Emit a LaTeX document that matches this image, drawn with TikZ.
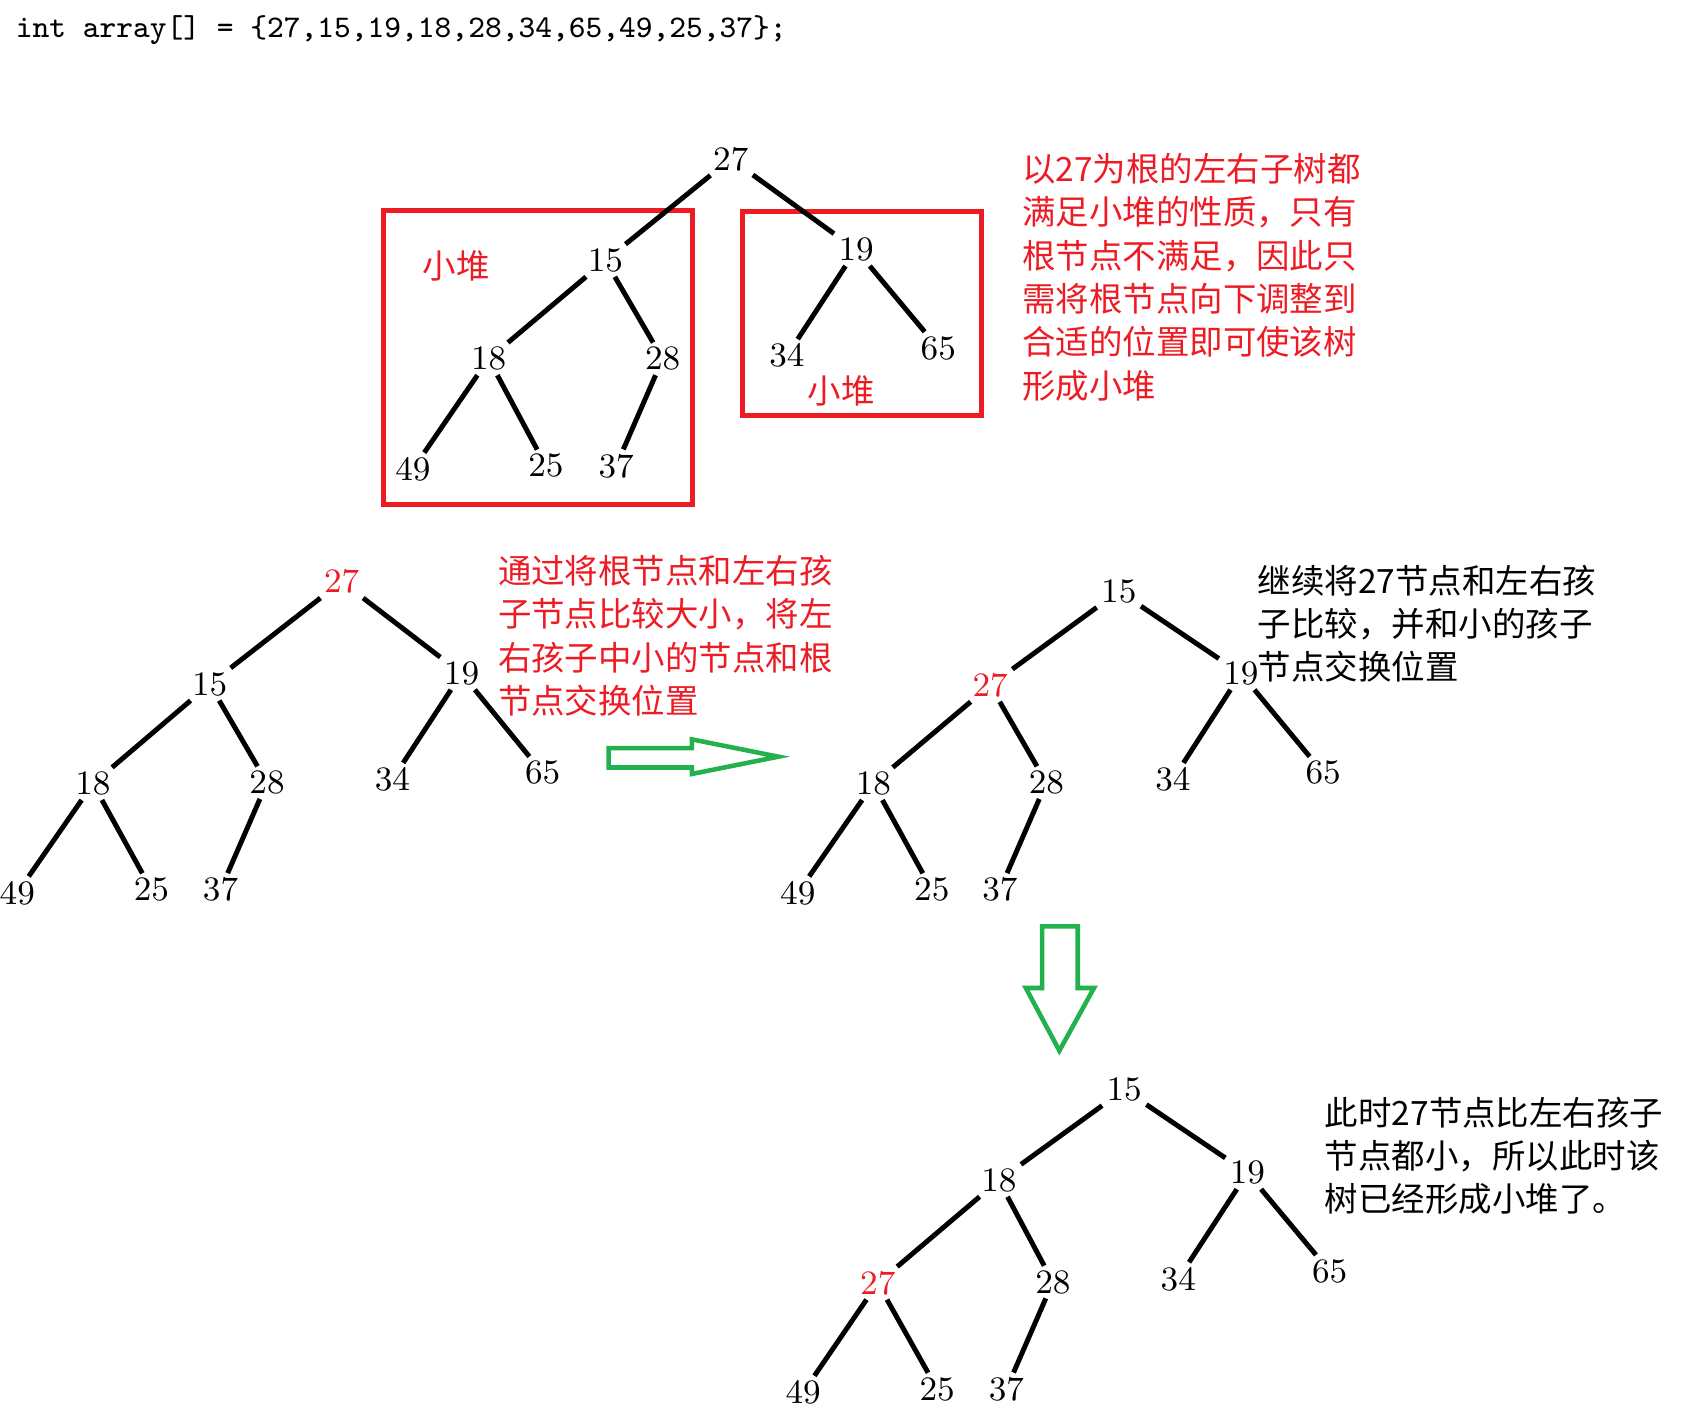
\documentclass[tikz,border=0pt]{standalone}
\usepackage{fontspec}
\usepackage{tikz}
\newfontfamily\cjk{Noto Sans CJK SC}
\definecolor{paintred}{RGB}{237,28,36}
\definecolor{paintgreen}{RGB}{34,177,76}

\begin{document}
\begin{tikzpicture}[x=0.01cm, y=-0.01cm,
    num/.style={font=\fontsize{9}{11}\selectfont, inner sep=1pt},
    hot/.style={num, text=paintred},
    edge/.style={line width=1.3pt},
    heapbox/.style={draw=paintred, line width=1.3pt},
    note/.style={font=\cjk\fontsize{8.8pt}{11.4pt}\selectfont, align=left, anchor=north west, inner sep=0pt},
    bigarrow/.style={draw=paintgreen, line width=1.2pt, line join=miter}]
    \useasboundingbox (0,0) rectangle (1568,1310);

    % header
    \node[anchor=west, inner sep=0pt, font=\ttfamily\fontsize{8.3}{10}\selectfont] (code) at (14,28) {int array[] = \{27,15,19,18,28,34,65,49,25,37\};};

    % first tree with the two sub-heaps
    \draw[heapbox] (355,195) rectangle (641,467);
    \draw[heapbox] (687,196) rectangle (908,384);
    \node[num] (a27) at (676,147) {27};
    \node[num] (a15) at (560,241) {15};
    \node[num] (a19) at (792,231) {19};
    \node[num] (a18) at (452,332) {18};
    \node[num] (a28) at (613,332) {28};
    \node[num] (a34) at (728,329) {34};
    \node[num] (a65) at (868,322) {65};
    \node[num] (a49) at (382,434) {49};
    \node[num] (a25) at (505,431) {25};
    \node[num] (a37) at (570,431) {37};
    \draw[edge] (a27) -- (a15) (a27) -- (a19) (a15) -- (a18) (a15) -- (a28)
        (a18) -- (a49) (a18) -- (a25) (a28) -- (a37) (a19) -- (a34) (a19) -- (a65);
    \node[note, anchor=center, text=paintred] (heapl) at (422,246) {小堆};
    \node[note, anchor=center, text=paintred] (heapr) at (778,362) {小堆};
    \node[note, text=paintred] (why) at (945,141) {以27为根的左右子树都\\满足小堆的性质，只有\\根节点不满足，因此只\\需将根节点向下调整到\\合适的位置即可使该树\\形成小堆};

    % second tree
    \node[hot] (b27) at (316,538) {27};
    \node[num] (b15) at (194,633) {15};
    \node[num] (b19) at (427,623) {19};
    \node[num] (b18) at (86,725) {18};
    \node[num] (b28) at (247,724) {28};
    \node[num] (b34) at (363,721) {34};
    \node[num] (b65) at (502,715) {65};
    \node[num] (b49) at (16,826) {49};
    \node[num] (b25) at (140,823) {25};
    \node[num] (b37) at (204,823) {37};
    \draw[edge] (b27) -- (b15) (b27) -- (b19) (b15) -- (b18) (b15) -- (b28)
        (b18) -- (b49) (b18) -- (b25) (b28) -- (b37) (b19) -- (b34) (b19) -- (b65);
    \node[note, text=paintred] (swap) at (460,513) {通过将根节点和左右孩\\子节点比较大小，将左\\右孩子中小的节点和根\\节点交换位置};

    \draw[bigarrow] (563,692) -- (640,692) -- (640,684) -- (720,700) -- (640,716) -- (640,710) -- (563,710) -- cycle;

    % third tree
    \node[num] (c15) at (1035,547) {15};
    \node[hot] (c27) at (916,634) {27};
    \node[num] (c19) at (1148,623) {19};
    \node[num] (c18) at (808,725) {18};
    \node[num] (c28) at (968,724) {28};
    \node[num] (c34) at (1085,721) {34};
    \node[num] (c65) at (1224,715) {65};
    \node[num] (c49) at (738,826) {49};
    \node[num] (c25) at (862,823) {25};
    \node[num] (c37) at (925,823) {37};
    \draw[edge] (c15) -- (c27) (c15) -- (c19) (c27) -- (c18) (c27) -- (c28)
        (c18) -- (c49) (c18) -- (c25) (c28) -- (c37) (c19) -- (c34) (c19) -- (c65);
    \node[note] (again) at (1163,522) {继续将27节点和左右孩\\子比较，并和小的孩子\\节点交换位置};

    \draw[bigarrow] (964,857) -- (997,857) -- (997,914) -- (1012,914) -- (980,972) -- (949,914) -- (964,914) -- cycle;

    % last tree
    \node[num] (d15) at (1040,1008) {15};
    \node[num] (d18) at (924,1092) {18};
    \node[num] (d19) at (1154,1085) {19};
    \node[hot] (d27) at (812,1187) {27};
    \node[num] (d28) at (974,1186) {28};
    \node[num] (d34) at (1090,1183) {34};
    \node[num] (d65) at (1230,1176) {65};
    \node[num] (d49) at (743,1288) {49};
    \node[num] (d25) at (867,1285) {25};
    \node[num] (d37) at (931,1285) {37};
    \draw[edge] (d15) -- (d18) (d15) -- (d19) (d18) -- (d27) (d18) -- (d28)
        (d27) -- (d49) (d27) -- (d25) (d28) -- (d37) (d19) -- (d34) (d19) -- (d65);
    \node[note] (done) at (1225,1014) {此时27节点比左右孩子\\节点都小，所以此时该\\树已经形成小堆了。};
\end{tikzpicture}
\end{document}
